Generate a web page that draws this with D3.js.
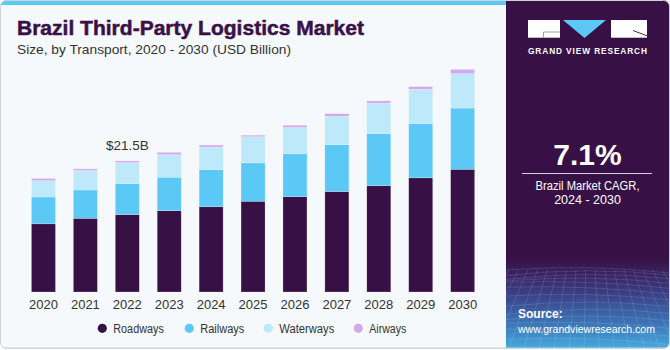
<!DOCTYPE html>
<html><head><meta charset="utf-8">
<script src="https://cdn.jsdelivr.net/npm/d3@7/dist/d3.min.js"></script>
<style>body{margin:0;background:#fff;}svg{display:block;font-family:"Liberation Sans",Arial,sans-serif;}</style>
</head><body>
<script>
const years = ["2020","2021","2022","2023","2024","2025","2026","2027","2028","2029","2030"];
const seriesNames = ["Roadways","Railways","Waterways","Airways"];
const roadways  = [11.2, 12.1, 12.7, 13.35, 14.0, 14.9, 15.65, 16.5, 17.45, 18.75, 20.15];
const railways  = [4.4, 4.65, 5.1, 5.5, 6.1, 6.3, 7.05, 7.7, 8.55, 8.9, 10.05];
const waterways = [2.7, 3.2, 3.45, 3.7, 3.7, 4.3, 4.3, 4.65, 5.0, 5.65, 5.65];
const airways   = [0.33, 0.28, 0.28, 0.38, 0.33, 0.25, 0.38, 0.43, 0.38, 0.43, 0.7];
const colors = ["#371146","#5bc8f5","#bde9fa","#d4a9ec"];
const annotation = {year:"2022", text:"$21.5B"};

const W=670,H=350;
const svg=d3.select("body").append("svg").attr("width",W).attr("height",H);
const defs=svg.append("defs");
defs.append("clipPath").attr("id","card").append("rect")
  .attr("x",0.5).attr("y",0).attr("width",669).attr("height",348.5).attr("rx",6);
const g0=svg.append("g").attr("clip-path","url(#card)");
g0.append("rect").attr("x",0).attr("y",0).attr("width",W).attr("height",H).attr("fill","#f5f9fc");
g0.append("rect").attr("x",0).attr("y",0).attr("width",506).attr("height",5).attr("fill","#5bc8f5");
// right panel
const grad=defs.append("linearGradient").attr("id","pg").attr("x1",0).attr("y1",0).attr("x2",0).attr("y2",1);
[[0,"#371146"],[0.74,"#371146"],[0.83,"#3a3a80"],[0.92,"#3c72b5"],[1,"#46ade0"]].forEach(s=>grad.append("stop").attr("offset",s[0]).attr("stop-color",s[1]));
g0.append("rect").attr("x",506).attr("y",0).attr("width",164).attr("height",H).attr("fill","url(#pg)");
// decorative grid
const gridG=g0.append("g").attr("stroke","#ffffff").attr("stroke-opacity",0.17).attr("stroke-width",0.7).attr("fill","none");
for(let i=0;i<14;i++){const yy=270+Math.pow(i/13,1.4)*80;gridG.append("path").attr("d",`M506,${yy+4*Math.sin(i)} Q588,${yy-6} 670,${yy+3}`);}
for(let i=0;i<22;i++){const xx=506+i*8;gridG.append("path").attr("d",`M${xx+(xx-588)*0.2},270 L${xx+(xx-588)*0.9},350`);}
g0.append("rect").attr("x",0).attr("y",347.5).attr("width",W).attr("height",3).attr("fill","#d0d3d6");
svg.append("rect").attr("x",0.5).attr("y",0.5).attr("width",669).attr("height",348).attr("rx",6)
  .attr("fill","none").attr("stroke","#d0d3d6").attr("stroke-width",1);

// title
svg.append("text").attr("x",17).attr("y",35).attr("font-size",21).attr("font-weight","bold")
  .attr("fill","#3a1048").attr("stroke","#3a1048").attr("stroke-width",0.5)
  .attr("textLength",347).attr("lengthAdjust","spacingAndGlyphs")
  .text("Brazil Third-Party Logistics Market");
svg.append("text").attr("x",17).attr("y",53.5).attr("font-size",13).attr("fill","#333")
  .attr("textLength",274).attr("lengthAdjust","spacingAndGlyphs")
  .text("Size, by Transport, 2020 - 2030 (USD Billion)");

// scales
const x=d3.scaleBand().domain(years).range([22.5,483.6]).paddingInner(0.4275).paddingOuter(0.2137);
const y=d3.scaleLinear().domain([0,35]).range([292,292-35*6.09]);
const table=years.map((yr,i)=>({year:yr,Roadways:roadways[i],Railways:railways[i],Waterways:waterways[i],Airways:airways[i]}));
const stack=d3.stack().keys(seriesNames)(table);
const barsG=svg.append("g");
stack.forEach((layer,li)=>{
  barsG.append("g").attr("fill",colors[li]).selectAll("rect").data(layer).join("rect")
    .attr("x",d=>x(d.data.year)).attr("width",x.bandwidth())
    .attr("y",d=>y(d[1])).attr("height",d=>y(d[0])-y(d[1]))
    .attr("stroke","#ffffff").attr("stroke-opacity",0.35).attr("stroke-width",0.6);
});
// x axis
const xa=svg.append("g").attr("transform","translate(0,292)").call(d3.axisBottom(x).tickSize(0).tickPadding(8));
xa.select(".domain").remove();
xa.selectAll("text").attr("font-size",13).attr("fill","#333").attr("font-family","Liberation Sans,Arial,sans-serif");
// annotation
svg.append("text").attr("x",x(annotation.year)+x.bandwidth()/2).attr("y",149.5)
  .attr("text-anchor","middle").attr("font-size",13.5).attr("fill","#333").text(annotation.text);

// legend
const legX=[102.3,189.3,268.3,358.3];
const legW=[50.5,44,55,37];
const lg=svg.append("g");
seriesNames.forEach((s,i)=>{
  lg.append("circle").attr("cx",legX[i]).attr("cy",328.3).attr("r",4.6).attr("fill",colors[i]);
  lg.append("text").attr("x",legX[i]+11).attr("y",332.6).attr("font-size",12.5).attr("fill","#333")
    .attr("textLength",legW[i]).attr("lengthAdjust","spacingAndGlyphs").text(s);
});

// logo
const lo=svg.append("g");
lo.append("rect").attr("x",528).attr("y",20).attr("width",32).attr("height",17.7).attr("fill","#fff");
lo.append("path").attr("d","M543.5,37.7 L543.5,32 L560,32").attr("stroke","#8a8a8a").attr("stroke-width",0.8).attr("fill","none");
lo.append("path").attr("d","M563,20 L606,20 L584.5,38 Z").attr("fill","#5bc8f5");
lo.append("rect").attr("x",611).attr("y",20).attr("width",36).attr("height",17.7).attr("fill","#fff");
lo.append("path").attr("d","M633,30.5 L647,35.8").attr("stroke","#371146").attr("stroke-width",0.9);
lo.append("text").attr("x",528).attr("y",54).attr("font-size",8.3).attr("font-weight","bold").attr("fill","#fff")
  .attr("textLength",119).attr("lengthAdjust","spacing").text("GRAND VIEW RESEARCH");

// CAGR
svg.append("text").attr("x",587.5).attr("y",165).attr("text-anchor","middle").attr("font-size",30).attr("font-weight","bold").attr("fill","#fff").text("7.1%");
svg.append("line").attr("x1",522).attr("x2",652).attr("y1",173.5).attr("y2",173.5).attr("stroke","#d8cde0").attr("stroke-width",1);
svg.append("text").attr("x",587.5).attr("y",189.5).attr("text-anchor","middle").attr("font-size",12.5).attr("fill","#fff")
  .attr("textLength",104).attr("lengthAdjust","spacingAndGlyphs").text("Brazil Market CAGR,");
svg.append("text").attr("x",587.5).attr("y",203.5).attr("text-anchor","middle").attr("font-size",12.5).attr("fill","#fff").text("2024 - 2030");

// source
svg.append("text").attr("x",518).attr("y",317.5).attr("font-size",12).attr("font-weight","bold").attr("fill","#fff").text("Source:");
svg.append("text").attr("x",518).attr("y",333).attr("font-size",11).attr("fill","#fff")
  .attr("textLength",137).attr("lengthAdjust","spacingAndGlyphs").text("www.grandviewresearch.com");
</script>
</body></html>
